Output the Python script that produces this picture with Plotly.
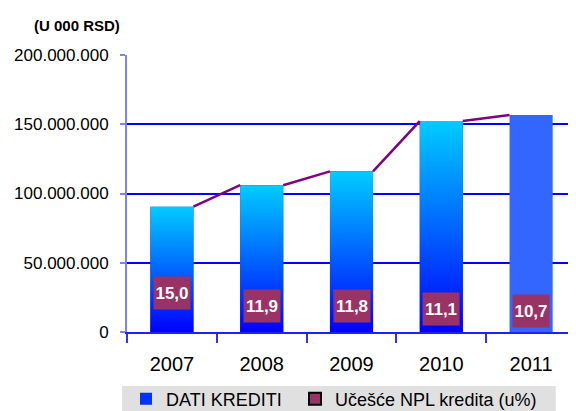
import plotly.graph_objects as go

# ---- data ----
years = ["2007", "2008", "2009", "2010", "2011"]
dati_krediti = [90_500_000, 106_000_000, 116_000_000, 152_300_000, 156_700_000]
npl_share = [15.0, 11.9, 11.8, 11.1, 10.7]
y_tick_vals = [0, 50_000_000, 100_000_000, 150_000_000, 200_000_000]

# ---- style ----
FONT = "Liberation Sans, Arial, sans-serif"
BAR_W = 0.48
SOLID_INDEX = 4  # last bar drawn in a flat colour
GRAD = [[0, "#0000FF"], [1, "#00CCFF"]]
idx = list(range(len(years)))

# page body has an 8px margin: figure sized to fill the rest of the window
OFF = 8
W, H = 576 - OFF, 411 - OFF

fig = go.Figure()

# base bars (data), gradient overlays follow
bar_colors = ["#0033FF" if i != SOLID_INDEX else "#3366FF" for i in idx]
fig.add_trace(go.Bar(
    x=idx, y=dati_krediti, width=BAR_W, name="DATI KREDITI",
    marker=dict(color=bar_colors, line=dict(width=0)),
    hoverinfo="skip", legend="legend",
))

# gradient fill for the bars
for i in idx:
    if i == SOLID_INDEX:
        continue
    v = dati_krediti[i]
    fig.add_trace(go.Scatter(
        x=[i - BAR_W / 2, i + BAR_W / 2, i + BAR_W / 2, i - BAR_W / 2, i - BAR_W / 2],
        y=[0, 0, v, v, 0],
        mode="lines", line=dict(width=0, color="rgba(0,0,0,0)"),
        fill="toself",
        fillgradient=dict(type="vertical", colorscale=GRAD),
        showlegend=False, hoverinfo="skip",
    ))

# series lines between bar tops
lx, ly = [], []
for i in idx[:-1]:
    lx += [i + BAR_W / 2, i + 1 - BAR_W / 2, None]
    ly += [dati_krediti[i], dati_krediti[i + 1], None]
fig.add_trace(go.Scatter(x=lx, y=ly, mode="lines",
                         line=dict(color="#800080", width=2.5),
                         showlegend=False, hoverinfo="skip"))

# legend entry for NPL share
fig.add_trace(go.Bar(x=[None], y=[None], name="Učešće NPL kredita (u%)",
                     marker=dict(color="#993366", line=dict(color="black", width=2)),
                     legend="legend2"))

# NPL labels
for i in idx:
    fig.add_annotation(
        x=i, y=npl_share[i], xref="x", yref="y2",
        text=f"{npl_share[i]:.1f}".replace(".", ","),
        showarrow=False, bgcolor="#993366", borderpad=1,
        width=34, height=30,
        font=dict(family=FONT, size=17, color="white", weight="bold"),
    )

# unit title
fig.add_annotation(x=-0.111, y=1.108, xref="paper", yref="paper",
                   xanchor="center", yanchor="middle",
                   text="<b>(U 000 RSD)</b>", showarrow=False,
                   font=dict(family=FONT, size=15, color="black"))

# legend background
fig.add_shape(type="rect", xref="paper", yref="paper",
              x0=-0.011, x1=0.955, y0=-0.29, y1=-0.195,
              fillcolor="#E0E0E0", line=dict(width=0), layer="below")

leg_common = dict(orientation="h", xanchor="left", yanchor="middle",
                  xref="container", yref="container", y=(H - (399 - OFF)) / H,
                  bgcolor="rgba(0,0,0,0)", borderwidth=0,
                  font=dict(size=18, family=FONT, color="black"))

fig.update_layout(
    width=W, height=H,
    margin=dict(l=127 - OFF, r=0, t=55 - OFF, b=79, autoexpand=False),
    paper_bgcolor="white", plot_bgcolor="white",
    separators=",.",
    barmode="overlay",
    font=dict(family=FONT, color="black"),
    showlegend=True,
    legend=dict(x=(126 - OFF) / W, **leg_common),
    legend2=dict(x=(295 - OFF) / W, **leg_common),
    xaxis=dict(
        range=[-0.5, 4.5], tickmode="array", tickvals=idx, ticktext=years,
        ticks="", showgrid=False, zeroline=False, automargin=False,
        showline=True, linecolor="#2020FF", linewidth=2,
        tickfont=dict(size=20, family=FONT), ticklabelstandoff=13,
        minor=dict(tickmode="array", tickvals=[i - 0.5 for i in range(len(years) + 1)],
                   ticks="outside", ticklen=9, tickcolor="#3030FF", tickwidth=2,
                   showgrid=False),
    ),
    yaxis=dict(
        range=[0, 200_000_000], tickmode="array", tickvals=y_tick_vals,
        tickformat=",d", showgrid=True, gridcolor="#0000FF", gridwidth=2,
        zeroline=False, showline=True, linecolor="#8080FF", linewidth=2,
        ticks="outside", ticklen=5, tickcolor="#8080FF", tickwidth=2, automargin=False,
        tickfont=dict(size=17, family=FONT), ticklabelstandoff=8,
    ),
    yaxis2=dict(overlaying="y", range=[5.7, 71.8], visible=False, automargin=False),
)

fig.write_html("out.html")
